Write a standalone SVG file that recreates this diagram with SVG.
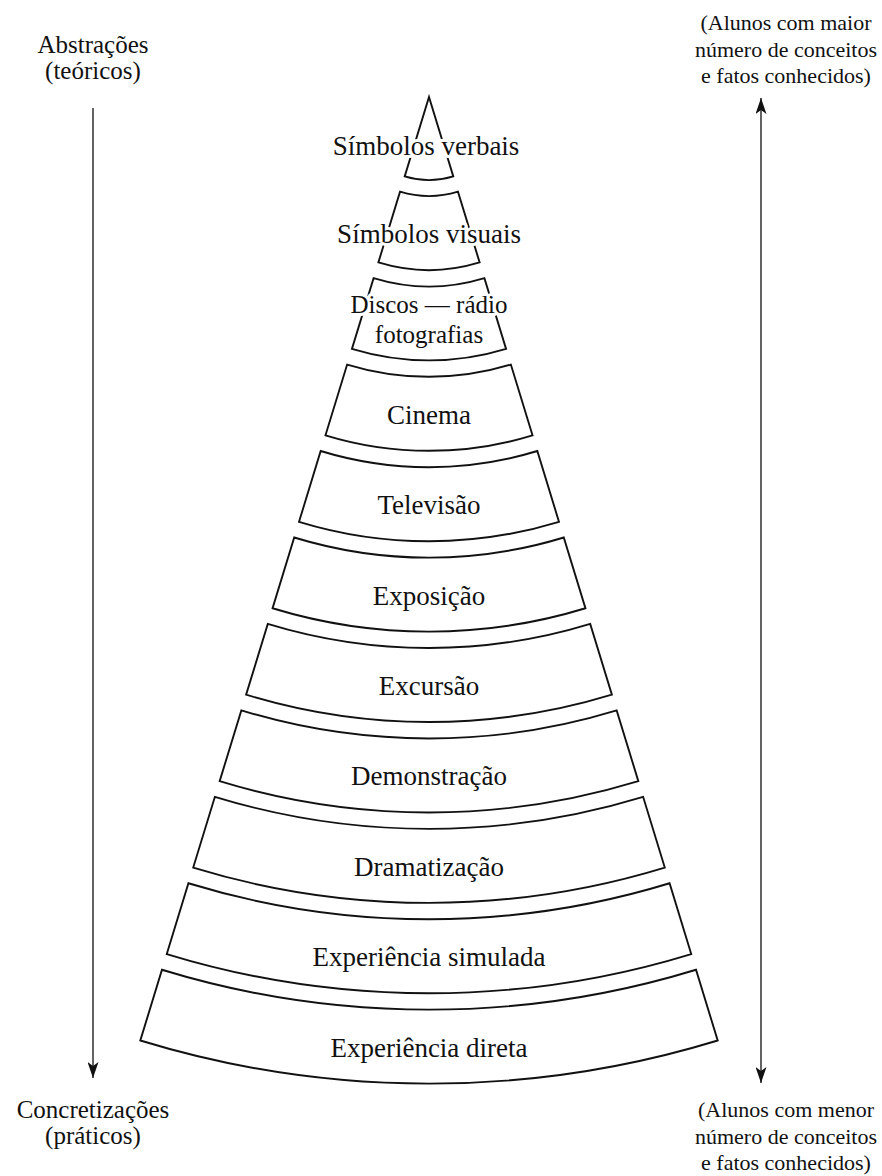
<svg xmlns="http://www.w3.org/2000/svg" width="882" height="1176" viewBox="0 0 882 1176">
<style>
.band{fill:none;stroke:#111;stroke-width:1.9;stroke-linejoin:miter}
.lbl{font-family:"Liberation Serif","Times New Roman",serif;font-size:27px;fill:#111;text-anchor:middle;stroke:#fff;stroke-width:6;paint-order:stroke;stroke-linejoin:round}
.sm{font-size:25px}
.side{font-family:"Liberation Serif","Times New Roman",serif;font-size:22px;fill:#111;text-anchor:middle}
.sideL{font-family:"Liberation Serif","Times New Roman",serif;font-size:25px;fill:#111;text-anchor:middle}
.conn{fill:none;stroke:#222;stroke-width:1.4}
</style>
<defs>
<marker id="ah" viewBox="0 0 16 11" refX="16" refY="5.5" markerWidth="16" markerHeight="11" markerUnits="userSpaceOnUse" orient="auto-start-reverse">
<path d="M0,0 L16,5.5 L0,11 L4,5.5 z" fill="#111"/>
</marker>
</defs>
<rect width="882" height="1176" fill="#fff"/>

<g id="connectors">
<path id="arrow-left" class="conn" d="M93,108 L93,1078" marker-end="url(#ah)"/>
<path id="arrow-right" class="conn" d="M761,98 L761,1083" marker-start="url(#ah)" marker-end="url(#ah)"/>
</g>

<g id="band-1">
<path class="band" d="M429,97 L453.3,176.4 A83,83 0 0 1 404.7,176.4 Z"/>
<text class="lbl" x="426" y="155">Símbolos verbais</text>
</g>
<g id="band-2">
<path class="band" d="M400.03,191.67 A99,99 0 0 0 457.97,191.67 L479.62,262.44 A173,173 0 0 1 378.38,262.44 Z"/>
<text class="lbl" x="429" y="243">Símbolos visuais</text>
</g>
<g id="band-3">
<path class="band" d="M373.58,278.12 A189.4,189.4 0 0 0 484.42,278.12 L506.07,348.89 A263.4,263.4 0 0 1 351.93,348.89 Z"/>
<text class="lbl sm" x="429" y="313">Discos — rádio</text>
<text class="lbl sm" x="429" y="343">fotografias</text>
</g>
<g id="band-4">
<path class="band" d="M347.13,364.57 A279.8,279.8 0 0 0 510.87,364.57 L532.52,435.34 A353.8,353.8 0 0 1 325.48,435.34 Z"/>
<text class="lbl" x="429" y="424">Cinema</text>
</g>
<g id="band-5">
<path class="band" d="M320.68,451.02 A370.2,370.2 0 0 0 537.32,451.02 L558.97,521.79 A444.2,444.2 0 0 1 299.03,521.79 Z"/>
<text class="lbl" x="429" y="514">Televisão</text>
</g>
<g id="band-6">
<path class="band" d="M294.23,537.47 A460.6,460.6 0 0 0 563.77,537.47 L585.42,608.24 A534.6,534.6 0 0 1 272.58,608.24 Z"/>
<text class="lbl" x="429" y="605">Exposição</text>
</g>
<g id="band-7">
<path class="band" d="M267.78,623.92 A551,551 0 0 0 590.22,623.92 L611.88,694.69 A625,625 0 0 1 246.12,694.69 Z"/>
<text class="lbl" x="429" y="695">Excursão</text>
</g>
<g id="band-8">
<path class="band" d="M241.33,710.37 A641.4,641.4 0 0 0 616.67,710.37 L638.33,781.14 A715.4,715.4 0 0 1 219.67,781.14 Z"/>
<text class="lbl" x="429" y="785">Demonstração</text>
</g>
<g id="band-9">
<path class="band" d="M214.88,796.82 A731.8,731.8 0 0 0 643.12,796.82 L664.78,867.59 A805.8,805.8 0 0 1 193.22,867.59 Z"/>
<text class="lbl" x="429" y="876">Dramatização</text>
</g>
<g id="band-10">
<path class="band" d="M188.42,883.27 A822.2,822.2 0 0 0 669.58,883.27 L691.23,954.04 A896.2,896.2 0 0 1 166.77,954.04 Z"/>
<text class="lbl" x="429" y="966">Experiência simulada</text>
</g>
<g id="band-11">
<path class="band" d="M161.97,969.72 A912.6,912.6 0 0 0 696.03,969.72 L717.68,1040.49 A986.6,986.6 0 0 1 140.32,1040.49 Z"/>
<text class="lbl" x="429" y="1057">Experiência direta</text>
</g>

<g id="label-abstracoes">
<text class="sideL" x="93" y="53">Abstrações<tspan x="93" dy="26">(teóricos)</tspan></text>
</g>
<g id="label-concretizacoes">
<text class="sideL" x="93" y="1118">Concretizações<tspan x="93" dy="26">(práticos)</tspan></text>
</g>
<g id="label-maior">
<text class="side" x="786" y="30">(Alunos com maior<tspan x="786" dy="27">número de conceitos</tspan><tspan x="786" dy="26">e fatos conhecidos)</tspan></text>
</g>
<g id="label-menor">
<text class="side" x="786" y="1117">(Alunos com menor<tspan x="786" dy="27">número de conceitos</tspan><tspan x="786" dy="26">e fatos conhecidos)</tspan></text>
</g>
</svg>
